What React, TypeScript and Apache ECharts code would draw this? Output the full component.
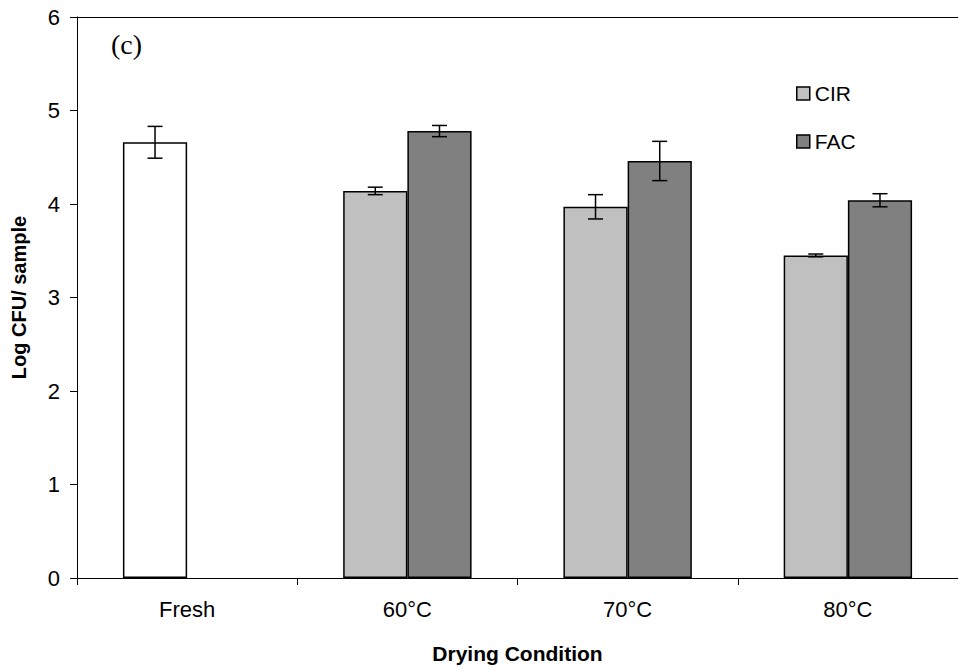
import React, { useEffect, useRef } from "react";
import * as echarts from "echarts";

const categories = ["Fresh", "60°C", "70°C", "80°C"];
const freshValue = 4.66;
const freshErr = 0.17;
const cirValues = [4.14, 3.97, 3.45];
const cirErr = [0.04, 0.13, 0.015];
const facValues = [4.78, 4.46, 4.04];
const facErr = [0.06, 0.21, 0.07];
const yTicks = [0, 1, 2, 3, 4, 5, 6];

const SANS = "'Liberation Sans', Arial, sans-serif";
const SERIF = "'Liberation Serif', 'Times New Roman', serif";

export default function App() {
  const ref = useRef<HTMLDivElement>(null);
  useEffect(() => {
    document.body.style.margin = "0";
    if (!ref.current) return;
    const chart = echarts.init(ref.current, null, { renderer: "svg" });

    const cirData: any[] = [
      { value: freshValue, itemStyle: { color: "#ffffff" } },
      ...cirValues,
    ];
    const facData: any[] = ["-", ...facValues];

    // error bar records: [categoryIndex, value, err, slot(-1 left, 1 right)]
    const errData: any[] = [[0, freshValue, freshErr, -1]];
    cirValues.forEach((v, i) => errData.push([i + 1, v, cirErr[i], -1]));
    facValues.forEach((v, i) => errData.push([i + 1, v, facErr[i], 1]));

    const catGap = 0.417;
    const barFrac = (1 - catGap) / 2;

    chart.setOption({
      animation: false,
      textStyle: { fontFamily: SANS },
      grid: { left: 77, top: 17, right: -11, bottom: 92, containLabel: false },
      legend: {
        data: ["CIR", "FAC"],
        orient: "vertical",
        left: 791,
        top: 78,
        itemWidth: 13,
        itemHeight: 13,
        itemGap: 27,
        icon: "rect",
        textStyle: { fontSize: 21, color: "#000", fontFamily: SANS },
        itemStyle: { borderColor: "#000", borderWidth: 1.5 },
      },
      xAxis: [
        {
          type: "category",
          data: categories,
          name: "Drying Condition",
          nameLocation: "middle",
          nameGap: 65,
          nameTextStyle: { fontSize: 21, fontWeight: "bold", color: "#000", fontFamily: SANS },
          axisLine: { lineStyle: { color: "#000", width: 1 } },
          axisTick: { show: true, length: 7, inside: false, lineStyle: { color: "#000" } },
          axisLabel: { fontSize: 22, color: "#000", margin: 20, fontFamily: SANS },
        },
        {
          type: "category",
          data: categories,
          position: "top",
          axisLine: { show: true, lineStyle: { color: "#000", width: 1 } },
          axisTick: { show: false },
          axisLabel: { show: false },
        },
      ],
      yAxis: {
        type: "value",
        min: 0,
        max: 6,
        interval: 1,
        name: "Log CFU/ sample",
        nameLocation: "middle",
        nameGap: 48,
        nameTextStyle: { fontSize: 20, fontWeight: "bold", color: "#000", fontFamily: SANS },
        axisLine: { show: true, lineStyle: { color: "#000", width: 1 } },
        axisTick: { show: true, length: 7, lineStyle: { color: "#000" } },
        axisLabel: {
          fontSize: 22,
          color: "#000",
          margin: 17,
          fontFamily: SANS,
          formatter: (v: number) => (yTicks.includes(v) ? String(v) : ""),
        },
        splitLine: { show: false },
      },
      graphic: [
        {
          type: "text",
          x: 111,
          y: 44,
          style: {
            text: "(c)",
            font: `28px ${SERIF}`,
            fill: "#000",
            verticalAlign: "middle",
          },
        },
      ],
      series: [
        {
          name: "CIR",
          type: "bar",
          data: cirData,
          barGap: "0%",
          barCategoryGap: "41.7%",
          itemStyle: { color: "#C0C0C0", borderColor: "#000", borderWidth: 1.5 },
        },
        {
          name: "FAC",
          type: "bar",
          data: facData,
          barGap: "0%",
          barCategoryGap: "41.7%",
          itemStyle: { color: "#808080", borderColor: "#000", borderWidth: 1.5 },
        },
        {
          type: "custom",
          data: errData,
          z: 10,
          renderItem: (params: any, api: any) => {
            const idx = api.value(0);
            const val = api.value(1);
            const err = api.value(2);
            const slot = api.value(3);
            const catW = api.size([1, 0])[0];
            const c = api.coord([idx, val]);
            const x = c[0] + (slot * catW * barFrac) / 2;
            const top = api.coord([idx, val + err])[1];
            const bot = api.coord([idx, val - err])[1];
            const cap = 7.5;
            const st = { stroke: "#000", lineWidth: 1.5 };
            return {
              type: "group",
              children: [
                { type: "line", shape: { x1: x, y1: top, x2: x, y2: bot }, style: st },
                { type: "line", shape: { x1: x - cap, y1: top, x2: x + cap, y2: top }, style: st },
                { type: "line", shape: { x1: x - cap, y1: bot, x2: x + cap, y2: bot }, style: st },
              ],
            };
          },
        },
      ],
    });
    return () => chart.dispose();
  }, []);
  return <div ref={ref} style={{ width: 958, height: 670 }} />;
}
